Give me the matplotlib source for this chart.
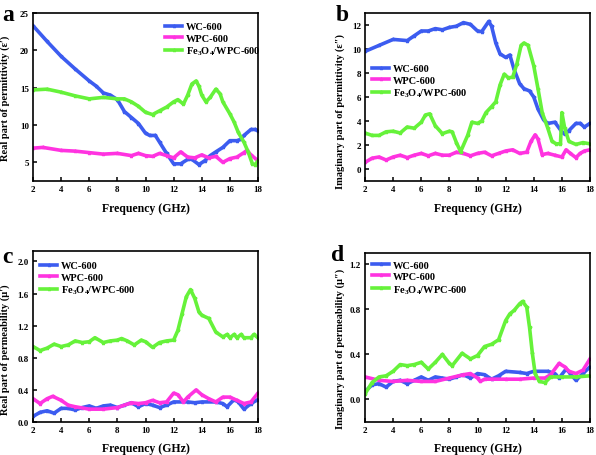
import matplotlib
matplotlib.use("Agg")
import matplotlib.pyplot as plt

plt.rcParams['font.family'] = ['Liberation Serif', 'DejaVu Serif']
plt.rcParams['font.weight'] = 'bold'
plt.rcParams['mathtext.fontset'] = 'custom'
plt.rcParams['mathtext.rm'] = 'Liberation Serif:bold'
plt.rcParams['mathtext.bf'] = 'Liberation Serif:bold'
plt.rcParams['mathtext.it'] = 'Liberation Serif:bold:italic'

C_WC = '#3c5cf0'
C_WPC = '#ff33e0'
C_FE = '#66f23a'
LABELS = ['WC-600', 'WPC-600', r'Fe$_{\mathrm{3}}$O$_{\mathrm{4}}$/WPC-600']

# ---- panel a: real permittivity ----
a_wc_f = [2, 3, 4, 5, 6, 6.5, 7, 7.5, 8, 8.5, 9, 9.5, 10, 10.3, 10.7, 11, 11.5, 12, 12.5, 13, 13.3, 13.8, 14.2, 14.6, 15, 15.5, 16, 16.5, 16.8, 17, 17.5, 17.8, 18]
a_wc = [23.3, 21.2, 19.2, 17.5, 15.9, 15.2, 14.3, 14.0, 13.4, 11.8, 11.0, 10.2, 8.9, 8.6, 8.6, 7.7, 6.2, 4.8, 4.8, 5.4, 5.4, 4.7, 5.2, 5.9, 6.4, 7.0, 7.9, 7.9, 8.1, 8.6, 9.4, 9.4, 9.2]
a_wpc_f = [2, 2.7, 4, 5, 6, 7, 8, 9, 9.5, 10, 10.5, 11, 11.5, 12, 12.5, 13, 13.5, 14, 14.5, 15, 15.5, 16, 16.5, 17, 17.2, 17.5, 18]
a_wpc = [6.9, 7.0, 6.6, 6.5, 6.3, 6.1, 6.2, 5.9, 6.2, 5.9, 5.8, 6.2, 5.9, 5.6, 6.4, 5.7, 5.6, 6.0, 5.6, 5.8, 5.0, 5.5, 5.7, 6.3, 6.6, 6.0, 5.2]
a_fe_f = [2, 3, 4, 5, 6, 7, 8, 8.5, 9, 9.5, 10, 10.5, 11, 11.5, 12, 12.3, 12.7, 13, 13.3, 13.6, 13.8, 14, 14.3, 14.6, 15, 15.3, 15.5, 16, 16.3, 16.6, 17, 17.3, 17.6, 17.8, 18]
a_fe = [14.7, 14.8, 14.4, 13.9, 13.5, 13.7, 13.5, 13.5, 13.1, 12.5, 11.7, 11.4, 11.9, 12.4, 13.1, 13.4, 12.8, 14.0, 15.5, 15.9, 15.2, 14.0, 13.1, 13.7, 14.8, 14.2, 13.1, 11.5, 10.4, 9.0, 7.7, 6.4, 4.8, 4.7, 5.2]

# ---- panel b: imaginary permittivity ----
b_wc_f = [2, 3, 4, 5, 5.5, 6, 6.5, 7, 7.5, 8, 8.5, 9, 9.5, 10, 10.3, 10.8, 11, 11.3, 11.6, 12, 12.3, 12.6, 13, 13.3, 13.7, 14, 14.3, 14.7, 15, 15.5, 16, 16.2, 16.5, 17, 17.3, 17.6, 18]
b_wc = [9.8, 10.3, 10.8, 10.7, 11.1, 11.5, 11.5, 11.7, 11.6, 11.8, 11.9, 12.2, 12.05, 11.5, 11.45, 12.3, 11.9, 10.5, 9.6, 9.3, 9.5, 8.3, 7.1, 6.7, 6.5, 6.0, 5.0, 4.1, 3.8, 3.9, 3.1, 2.9, 3.2, 3.8, 3.8, 3.5, 3.8]
b_wpc_f = [2, 2.5, 3, 3.5, 4, 4.5, 5, 5.5, 6, 6.5, 7, 7.5, 8, 8.5, 9, 9.5, 10, 10.5, 11, 11.5, 12, 12.5, 13, 13.5, 13.8, 14.1, 14.3, 14.6, 15, 15.5, 16, 16.3, 16.6, 17, 17.3, 17.6, 18]
b_wpc = [0.55, 0.9, 1.0, 0.75, 1.0, 1.15, 0.95, 1.15, 1.3, 1.1, 1.3, 1.15, 1.15, 1.4, 1.3, 1.1, 1.3, 1.4, 1.1, 1.3, 1.5, 1.6, 1.3, 1.4, 2.3, 2.85, 2.5, 1.2, 1.3, 1.15, 1.0, 1.6, 1.3, 0.95, 1.3, 1.5, 1.6]
b_fe_f = [2, 2.5, 3, 3.5, 4, 4.5, 5, 5.5, 6, 6.3, 6.6, 7, 7.5, 8, 8.2, 8.5, 8.8, 9.3, 9.6, 10, 10.3, 10.6, 11, 11.3, 11.6, 11.9, 12.2, 12.5, 12.8, 13.1, 13.3, 13.6, 14, 14.3, 14.6, 15, 15.3, 15.6, 15.9, 16.0, 16.2, 16.5, 17, 17.5, 18]
b_fe = [3.0, 2.8, 2.8, 3.1, 3.15, 3.0, 3.5, 3.4, 3.9, 4.5, 4.6, 3.6, 2.95, 3.15, 3.1, 2.2, 1.45, 2.8, 3.9, 3.8, 4.0, 4.7, 5.2, 5.6, 7.0, 7.9, 7.6, 7.65, 8.75, 10.3, 10.5, 10.3, 8.6, 6.7, 4.7, 3.4, 2.3, 2.1, 2.1, 4.7, 3.4, 2.3, 2.05, 2.2, 2.1]

# ---- panel c: real permeability ----
c_wc_f = [2, 2.5, 3, 3.5, 4, 4.5, 5, 5.5, 6, 6.5, 7, 7.5, 8, 8.5, 9, 9.5, 10, 10.5, 11, 11.5, 12, 13, 13.5, 14, 15, 15.5, 15.8, 16.3, 16.6, 17, 17.5, 18]
c_wc = [0.07, 0.12, 0.14, 0.11, 0.17, 0.17, 0.15, 0.18, 0.20, 0.17, 0.20, 0.21, 0.18, 0.21, 0.24, 0.19, 0.23, 0.21, 0.18, 0.21, 0.25, 0.25, 0.24, 0.25, 0.25, 0.23, 0.19, 0.28, 0.25, 0.16, 0.23, 0.28]
c_wpc_f = [2, 2.5, 3, 3.4, 4, 4.5, 5, 6, 7, 8, 9, 9.5, 10, 10.5, 11, 11.5, 12, 12.3, 12.7, 13, 13.6, 14, 14.5, 15, 15.5, 16, 16.5, 17, 17.5, 18]
c_wpc = [0.29, 0.23, 0.29, 0.32, 0.27, 0.21, 0.19, 0.16, 0.16, 0.18, 0.24, 0.23, 0.24, 0.27, 0.24, 0.25, 0.36, 0.34, 0.25, 0.31, 0.40, 0.34, 0.29, 0.25, 0.31, 0.31, 0.27, 0.23, 0.25, 0.36]
c_fe_f = [2, 2.5, 3, 3.5, 4, 4.5, 5, 5.5, 6, 6.4, 7, 7.5, 8, 8.3, 8.7, 9.2, 9.7, 10, 10.5, 11, 11.5, 12, 12.3, 12.6, 12.9, 13.2, 13.5, 13.8, 14, 14.5, 15, 15.5, 15.8, 16, 16.3, 16.5, 16.8, 17, 17.5, 17.7, 18]
c_fe = [0.94, 0.89, 0.92, 0.97, 0.94, 0.96, 1.01, 0.99, 1.00, 1.05, 0.99, 1.01, 1.02, 1.04, 1.01, 0.96, 1.02, 1.00, 0.93, 0.99, 1.01, 1.02, 1.14, 1.35, 1.56, 1.65, 1.54, 1.37, 1.33, 1.29, 1.12, 1.06, 1.09, 1.05, 1.09, 1.05, 1.09, 1.05, 1.05, 1.09, 1.05]

# ---- panel d: imaginary permeability ----
d_wc_f = [2, 2.5, 3, 3.5, 4, 4.5, 5, 5.5, 6, 6.5, 7, 7.5, 8, 8.5, 9, 9.5, 10, 10.5, 11, 11.5, 12, 13, 13.5, 14, 15, 15.5, 15.8, 16.3, 16.6, 17, 17.5, 18]
d_wc = [0.07, 0.13, 0.14, 0.11, 0.16, 0.17, 0.14, 0.17, 0.20, 0.17, 0.20, 0.19, 0.18, 0.20, 0.22, 0.19, 0.23, 0.22, 0.18, 0.21, 0.25, 0.24, 0.23, 0.25, 0.25, 0.23, 0.19, 0.27, 0.23, 0.17, 0.23, 0.29]
d_wpc_f = [2, 3, 4, 5, 6, 7, 8, 9, 9.5, 10, 10.2, 10.5, 11, 12, 13, 14, 14.8, 15.2, 15.8, 16.2, 16.5, 17, 17.5, 18]
d_wpc = [0.20, 0.17, 0.16, 0.17, 0.16, 0.16, 0.19, 0.22, 0.23, 0.19, 0.16, 0.18, 0.18, 0.18, 0.18, 0.19, 0.19, 0.22, 0.32, 0.29, 0.25, 0.23, 0.26, 0.36]
d_fe_f = [2, 2.5, 3, 3.5, 4, 4.5, 5, 5.5, 6, 6.5, 7, 7.5, 8, 8.2, 8.9, 9.5, 10, 10.5, 11, 11.5, 12, 12.3, 12.6, 13, 13.2, 13.5, 13.7, 13.9, 14.1, 14.4, 14.8, 15.2, 16, 17, 18]
d_fe = [0.05, 0.15, 0.20, 0.21, 0.25, 0.31, 0.30, 0.31, 0.33, 0.27, 0.33, 0.40, 0.32, 0.30, 0.41, 0.36, 0.39, 0.47, 0.49, 0.53, 0.70, 0.76, 0.79, 0.85, 0.87, 0.82, 0.64, 0.41, 0.23, 0.16, 0.15, 0.20, 0.20, 0.20, 0.21]

W, H = 596, 456
fig = plt.figure(figsize=(W / 100, H / 100), dpi=100)

def rect(l, r, t, b):
    return [l / W, 1 - b / H, (r - l) / W, (b - t) / H]

panels = [
    dict(rect=rect(33, 258, 14, 182), data=[(a_wc_f, a_wc), (a_wpc_f, a_wpc), (a_fe_f, a_fe)],
         ylim=(2.5, 25), yticks=[5, 10, 15, 20, 25], yfmt='{:.0f}',
         ylabel="Real part of permittivity (ε′)", ly=0.5, letter='a', lpos=(2, 21),
         leg=dict(loc='upper right', bbox_to_anchor=(1.045, 0.99))),
    dict(rect=rect(365, 590, 14, 182), data=[(b_wc_f, b_wc), (b_wpc_f, b_wpc), (b_fe_f, b_fe)],
         ylim=(-1, 13), yticks=[0, 2, 4, 6, 8, 10, 12], yfmt='{:.0f}',
         ylabel="Imaginary part of permittivity (ε″)", ly=0.42, letter='b', lpos=(336, 21),
         leg=dict(loc='upper left', bbox_to_anchor=(0.0, 0.74))),
    dict(rect=rect(33, 258, 252, 423), data=[(c_wc_f, c_wc), (c_wpc_f, c_wpc), (c_fe_f, c_fe)],
         ylim=(0, 2.13), yticks=[0.0, 0.4, 0.8, 1.2, 1.6, 2.0], yfmt='{:.1f}',
         ylabel="Real part of permeability (μ′)", ly=0.43, letter='c', lpos=(2, 263),
         leg=dict(loc='upper left', bbox_to_anchor=(0.0, 0.985))),
    dict(rect=rect(365, 590, 254, 423), data=[(d_wc_f, d_wc), (d_wpc_f, d_wpc), (d_fe_f, d_fe)],
         ylim=(-0.2, 1.3), yticks=[0.0, 0.4, 0.8, 1.2], yfmt='{:.1f}',
         ylabel="Imaginary part of permeability (μ″)", ly=0.44, letter='d', lpos=(331, 261),
         leg=dict(loc='upper left', bbox_to_anchor=(0.0, 1.0))),
]

colors = [C_WC, C_WPC, C_FE]
for p in panels:
    ax = fig.add_axes(p['rect'])
    for (fx, fy), col, lab in zip(p['data'], colors, LABELS):
        ax.plot(fx, fy, color=col, lw=2.6, marker='*', ms=2.5, mec=col, label=lab)
    ax.set_xlim(2, 18)
    ax.set_ylim(*p['ylim'])
    ax.set_xticks(range(2, 19, 2))
    ax.set_yticks(p['yticks'])
    ax.set_yticklabels([p['yfmt'].format(v) for v in p['yticks']])
    ax.tick_params(direction='in', length=3, width=1.1, labelsize=6.5, pad=3)
    for s in ax.spines.values():
        s.set_linewidth(1.2)
    ax.set_xlabel('Frequency (GHz)', fontsize=8.5, fontweight='bold', labelpad=6)
    ax.set_ylabel(p['ylabel'], fontsize=7.5, fontweight='bold', labelpad=4,
                  family=['Liberation Serif', 'DejaVu Serif'])
    ax.yaxis.set_label_coords(-0.09 if p['letter'] in 'bd' else -0.1, p['ly'])
    leg = ax.legend(frameon=False, fontsize=7.5, handlelength=1.6, handletextpad=0.4,
                    labelspacing=0.2, borderaxespad=0.3, **p['leg'])
    fig.text(p['lpos'][0] / W, 1 - p['lpos'][1] / H, p['letter'], fontsize=17,
             fontweight='bold', ha='left', va='baseline')

fig.savefig('out.png', dpi=100)
